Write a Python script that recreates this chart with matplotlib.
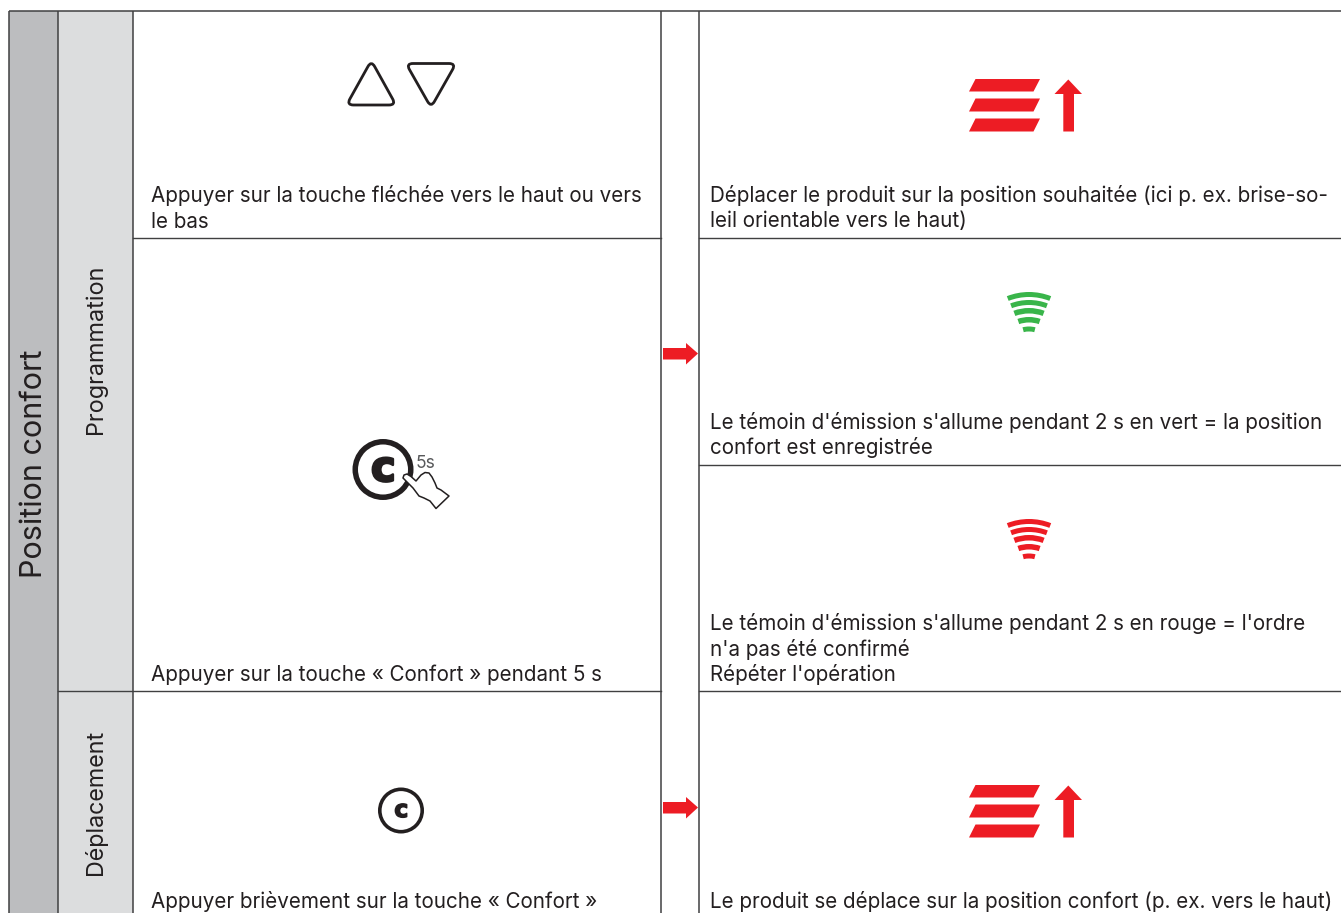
import matplotlib
matplotlib.use('Agg')
import matplotlib.pyplot as plt
import matplotlib.patheffects as pe
from matplotlib.patches import Polygon, Wedge, Circle, Rectangle, PathPatch
from matplotlib.path import Path

plt.rcParams['font.family'] = ['Inter', 'Liberation Sans', 'DejaVu Sans']

# textes du tableau
titre = 'Position confort'
sections = ['Programmation', 'Déplacement']
gauche = [['Appuyer sur la touche fléchée vers le haut ou vers', 'le bas'],
          ['Appuyer sur la touche « Confort » pendant 5 s'],
          ['Appuyer brièvement sur la touche « Confort »']]
droite = [['Déplacer le produit sur la position souhaitée (ici p. ex. brise-so-', 'leil orientable vers le haut)'],
          ["Le témoin d'émission s'allume pendant 2 s en vert = la position", 'confort est enregistrée'],
          ["Le témoin d'émission s'allume pendant 2 s en rouge = l'ordre", "n'a pas été confirmé", "Répéter l'opération"],
          ['Le produit se déplace sur la position confort (p. ex. vers le haut)']]

NOIR = '#231f20'
LIGNE = '#404041'
ROUGE = '#ed1c24'
VERT = '#39b54a'
GRIS1 = '#bcbdbf'
GRIS2 = '#dcddde'
TAILLE = 14.85

fig = plt.figure(figsize=(13.41, 9.13), dpi=100)
ax = fig.add_axes([0, 0, 1, 1])
ax.set_xlim(0, 1341)
ax.set_ylim(913, 0)
ax.axis('off')


def coins_ronds(pts, r):
    # polygone ferme avec coins arrondis
    verts, codes = [], []
    n = len(pts)
    for i in range(n):
        x0, y0 = pts[i - 1]
        x1, y1 = pts[i]
        x2, y2 = pts[(i + 1) % n]
        d0 = ((x0 - x1) ** 2 + (y0 - y1) ** 2) ** 0.5
        d2 = ((x2 - x1) ** 2 + (y2 - y1) ** 2) ** 0.5
        a = (x1 + (x0 - x1) * r / d0, y1 + (y0 - y1) * r / d0)
        b = (x1 + (x2 - x1) * r / d2, y1 + (y2 - y1) * r / d2)
        verts += [a, (x1, y1), b]
        codes += [Path.MOVETO if i == 0 else Path.LINETO, Path.CURVE3, Path.CURVE3]
    verts.append(verts[0])
    codes.append(Path.CLOSEPOLY)
    return Path(verts, codes)


def volet(dy):
    # lamelles + fleche vers le haut
    for y0, y1 in [(79, 91.5), (98.5, 111.5), (118.5, 131.5)]:
        ax.add_patch(Polygon([(975.5, y0 + dy), (1040, y0 + dy), (1033.5, y1 + dy), (969, y1 + dy)],
                             closed=True, fc=ROUGE, ec='none'))
    ax.add_patch(Polygon([(1068.3, 79.5 + dy), (1082, 94 + dy), (1074, 94 + dy), (1074, 131.5 + dy),
                          (1063.3, 131.5 + dy), (1063.3, 94 + dy), (1054.5, 94 + dy)],
                         closed=True, fc=ROUGE, ec='none'))


def ondes(dy, couleur):
    # arcs peu courbes, de plus en plus courts vers le bas
    for r0, r1, a in [(55.5, 60.5, 21.5), (47.5, 52.5, 21), (39, 44.5, 20.5), (30, 35.5, 19), (21, 26, 14.5)]:
        ax.add_patch(Wedge((1029, 352.5 + dy), r1, 270 - a, 270 + a, width=r1 - r0, fc=couleur, ec='none'))


def fleche(dy):
    ax.add_patch(Polygon([(663, 348 + dy), (686, 348 + dy), (686, 343 + dy), (698, 353.5 + dy),
                          (686, 364.5 + dy), (686, 359.5 + dy), (663, 359.5 + dy)],
                         closed=True, fc=ROUGE, ec='none'))


def touche_c(x, y, r, ep, taille):
    ax.add_patch(Circle((x, y), r - ep / 2, fc='white', ec=NOIR, lw=ep * 0.72))
    ax.text(x + 0.3, y + taille * 0.385, 'c', family='DejaVu Sans', fontweight='bold', fontsize=taille,
            color=NOIR, ha='center', va='baseline',
            path_effects=[pe.withStroke(linewidth=taille * 0.06, foreground=NOIR)])


# colonnes grises
ax.add_patch(Rectangle((9, 11), 49, 902, fc=GRIS1, ec='none'))
ax.add_patch(Rectangle((58, 11), 75, 902, fc=GRIS2, ec='none'))

# lignes du tableau
for x, y0 in [(9, 11), (58, 11), (133, 11), (661, 11), (699, 11)]:
    ax.plot([x, x], [y0, 913], color=LIGNE, lw=1.1, solid_capstyle='butt')
ax.plot([9, 1341], [11, 11], color=LIGNE, lw=1.1, solid_capstyle='butt')
ax.plot([133, 661], [238, 238], color=LIGNE, lw=1.0)
ax.plot([699, 1341], [238, 238], color=LIGNE, lw=1.0)
ax.plot([699, 1341], [465, 465], color=LIGNE, lw=1.0)
ax.plot([58, 661], [691, 691], color=LIGNE, lw=1.0)
ax.plot([699, 1341], [691, 691], color=LIGNE, lw=1.0)

# textes verticaux
ax.text(34.5, 464, titre, rotation=90, fontsize=22, color=NOIR, ha='center', va='center')
ax.text(96, 349.5, sections[0], rotation=90, fontsize=16.9, color=NOIR, ha='center', va='center')
ax.text(96, 802.5, sections[1], rotation=90, fontsize=16.8, color=NOIR, ha='center', va='center')

# textes des cellules
for lignes, y in zip(gauche, [202, 681, 908]):
    for i, t in enumerate(lignes):
        ax.text(151.5, y + i * 26, t, fontsize=TAILLE, color=NOIR, va='baseline')
for lignes, y in zip(droite, [202, 429, 630, 908]):
    for i, t in enumerate(lignes):
        ax.text(710, y + i * 25.5, t, fontsize=TAILLE, color=NOIR, va='baseline')

# touches fleches
haut = [(371.3, 60.5), (396, 105), (346.5, 105)]
bas = [(406, 63.5), (456, 63.5), (431, 107.5)]
for tri in (haut, bas):
    ax.add_patch(PathPatch(coins_ronds(tri, 7), fc='none', ec=NOIR, lw=2.0, joinstyle='round'))

# pictos
volet(0)
volet(706)
ondes(0, VERT)
ondes(227, ROUGE)
fleche(0)
fleche(454)
touche_c(401, 810.5, 23, 3.6, 17)

# touche confort 5 s avec la main
touche_c(383, 469.5, 30.5, 5.5, 30)
ax.text(416, 468.5, '5s', fontsize=12.5, color='#58595b', va='baseline')
main = [(404, 475), (407, 474), (411, 476.5), (416, 481), (421, 475), (425, 472.5), (429, 473), (432, 477),
        (435, 483), (437, 488), (441, 490), (445, 493), (449, 496), (436, 508.5), (430, 501),
        (424, 498), (419, 496), (413, 488), (406, 481), (403, 478)]
ax.add_patch(Polygon(main, closed=True, fc='white', ec=NOIR, lw=1.1, joinstyle='round'))

fig.savefig('out.png', dpi=100)
